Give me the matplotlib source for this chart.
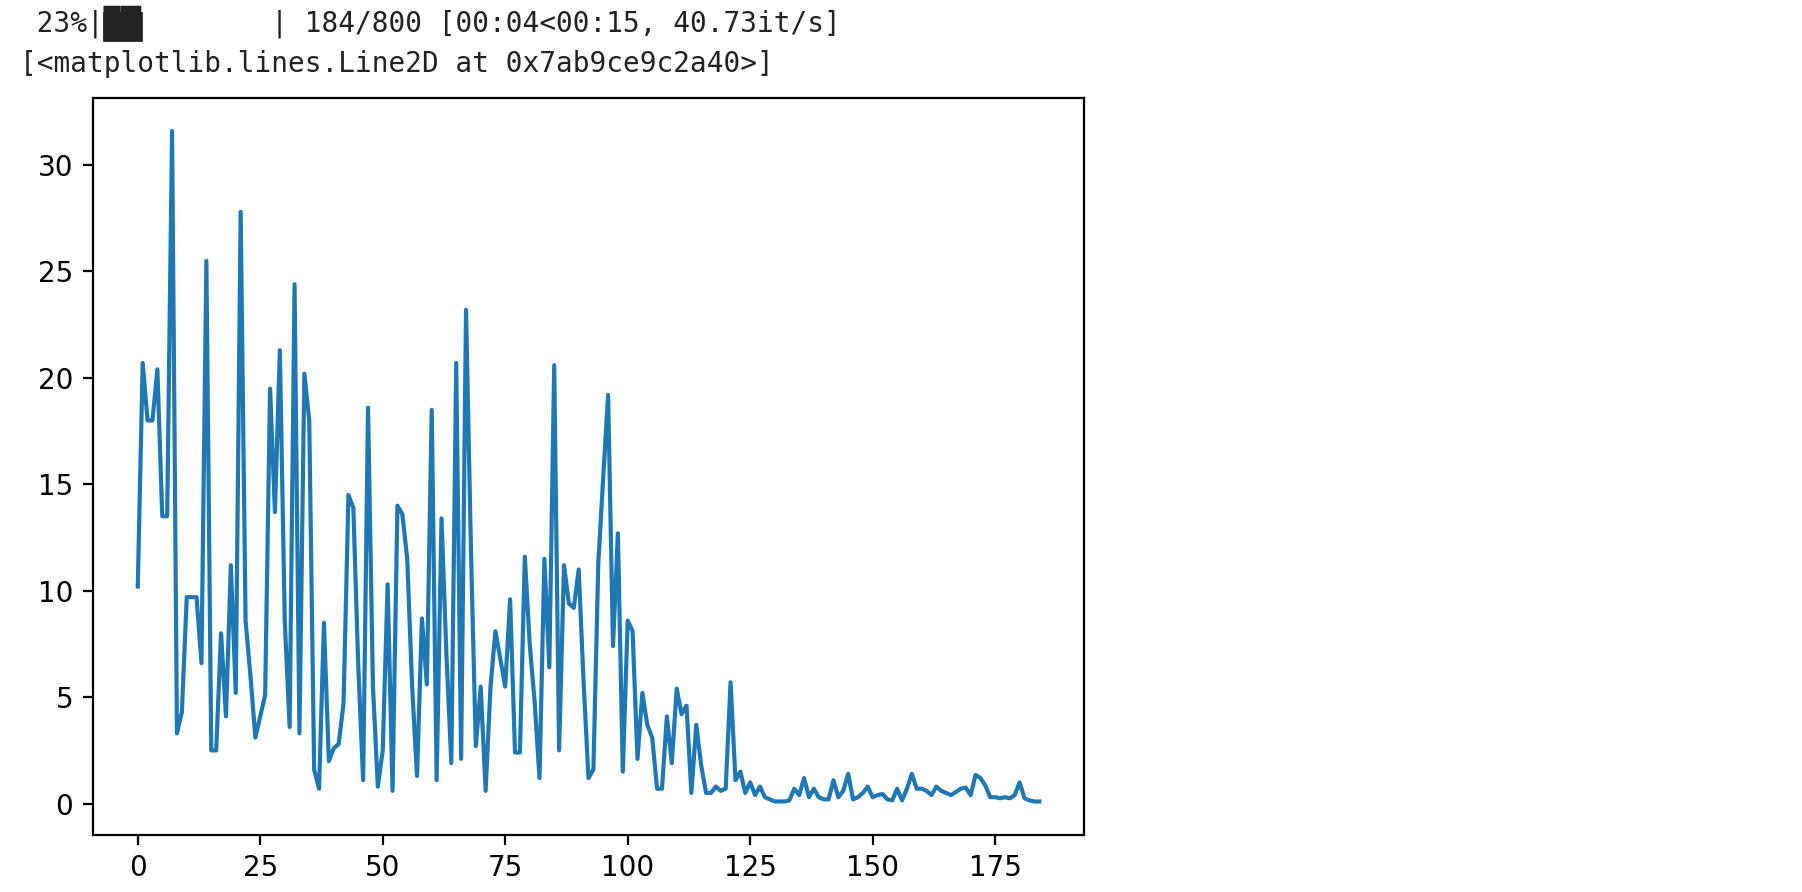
import matplotlib.pyplot as plt
from matplotlib.patches import Rectangle

# notebook output lines above the figure
progress_text = " 23%|██▎       | 184/800 [00:04<00:15, 40.73it/s]"
repr_text = "[<matplotlib.lines.Line2D at 0x7ab9ce9c2a40>]"

# loss values per step
losses = [
    10.2, 20.7, 18.0, 18.0, 20.4, 13.5, 13.5, 31.6, 3.3, 4.3,
    9.7, 9.7, 9.7, 6.6, 25.5, 2.5, 2.5, 8.0, 4.1, 11.2,
    5.2, 27.8, 8.6, 6.0, 3.1, 4.1, 5.1, 19.5, 13.7, 21.3,
    8.6, 3.6, 24.4, 3.3, 20.2, 18.0, 1.6, 0.7, 8.5, 2.0,
    2.6, 2.8, 4.7, 14.5, 13.9, 6.5, 1.1, 18.6, 5.5, 0.8,
    2.5, 10.3, 0.6, 14.0, 13.6, 11.5, 5.5, 1.3, 8.7, 5.6,
    18.5, 1.1, 13.4, 7.0, 1.9, 20.7, 2.1, 23.2, 12.0, 2.7,
    5.5, 0.6, 5.5, 8.1, 6.8, 5.5, 9.6, 2.4, 2.4, 11.6,
    7.5, 4.8, 1.2, 11.5, 6.4, 20.6, 2.5, 11.2, 9.4, 9.2,
    11.0, 5.7, 1.2, 1.6, 11.3, 15.3, 19.2, 7.4, 12.7, 1.5,
    8.6, 8.1, 2.1, 5.2, 3.7, 3.1, 0.7, 0.7, 4.1, 1.9,
    5.4, 4.2, 4.6, 0.5, 3.7, 1.8, 0.5, 0.5, 0.8, 0.6,
    0.7, 5.7, 1.1, 1.5, 0.5, 1.0, 0.4, 0.8, 0.3, 0.2,
    0.1, 0.1, 0.1, 0.15, 0.7, 0.4, 1.2, 0.3, 0.7, 0.3,
    0.2, 0.2, 1.1, 0.3, 0.6, 1.4, 0.2, 0.3, 0.5, 0.8,
    0.3, 0.4, 0.45, 0.2, 0.15, 0.7, 0.15, 0.7, 1.4, 0.7,
    0.7, 0.6, 0.4, 0.8, 0.6, 0.5, 0.4, 0.55, 0.7, 0.75,
    0.4, 1.35, 1.2, 0.85, 0.3, 0.3, 0.25, 0.3, 0.25, 0.4,
    1.0, 0.25, 0.15, 0.1, 0.1,
]

W, H = 1802, 892
fig = plt.figure(figsize=(W / 200, H / 200), dpi=200)

mono = ['DejaVu Sans Mono']
# fill the gaps between the block glyphs so the bar reads as one solid block
fig.patches.append(Rectangle((103.5 / W, 1 - 40 / H), 37.5 / W, 27.5 / H,
                             transform=fig.transFigure, color='#222222', zorder=0))
fig.text(20 / W, 1 - 32 / H, progress_text, family=mono, fontsize=10,
         color='#222222', va='baseline', ha='left')
fig.text(20 / W, 1 - 72 / H, repr_text, family=mono, fontsize=10,
         color='#222222', va='baseline', ha='left')

ax = fig.add_axes([92.7 / W, 1 - 835 / H, (1084.3 - 92.7) / W, (835 - 97.5) / H])
ax.plot(losses)

fig.savefig("out.png", dpi=200)
